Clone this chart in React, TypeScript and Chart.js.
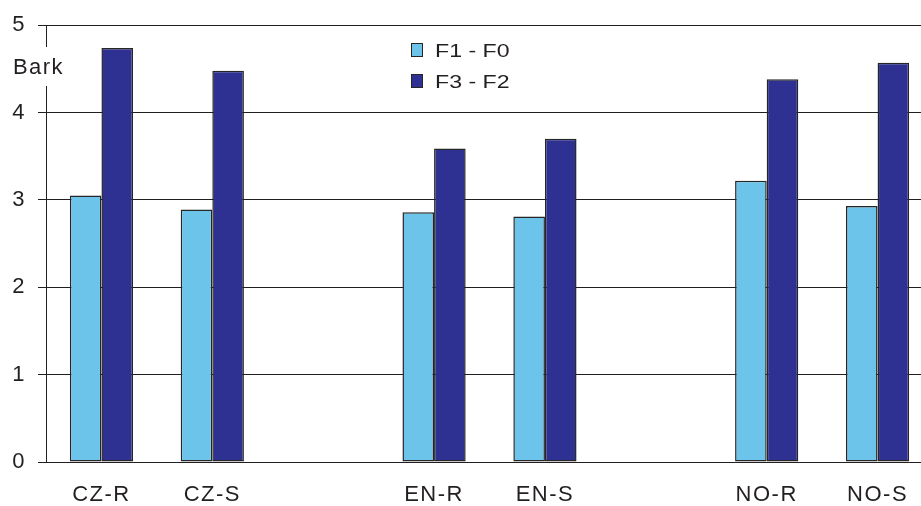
import React, { useEffect, useRef } from 'react';
import { Chart, registerables } from 'chart.js';

Chart.register(...registerables);

const categories = ['CZ-R', 'CZ-S', '', 'EN-R', 'EN-S', '', 'NO-R', 'NO-S'];
const seriesNames = ['F1 - F0', 'F3 - F2'];
const f1MinusF0 = [3.05, 2.89, null, 2.86, 2.81, null, 3.22, 2.93];
const f3MinusF2 = [4.74, 4.48, null, 3.59, 3.7, null, 4.38, 4.57];
const yMin = 0;
const yMax = 5;
const yStep = 1;
const unitLabel = 'Bark';

const FONT = '"Liberation Sans", Arial, Helvetica, sans-serif';
const INK = '#231F20';
const LIGHT = '#6DC4EB';
const DARK = '#2E3192';
const EDGE = '#262626';

const overlayPlugin = {
  id: 'overlayPlugin',
  beforeUpdate(chart: any) {
    chart.ctx.letterSpacing = '1.5px';
  },
  beforeDraw(chart: any) {
    chart.ctx.letterSpacing = '1.5px';
  },
  afterDraw(chart: any) {
    const ctx = chart.ctx as CanvasRenderingContext2D;
    ctx.save();
    // unit label, interrupting the y axis line
    ctx.fillStyle = '#ffffff';
    ctx.fillRect(8, 47, 58, 39);
    ctx.fillStyle = INK;
    ctx.font = `22px ${FONT}`;
    (ctx as any).letterSpacing = '1.5px';
    ctx.textAlign = 'center';
    ctx.textBaseline = 'alphabetic';
    ctx.fillText(unitLabel, 38.5, 73.5);

    // legend
    chart.data.datasets.forEach((ds: any, i: number) => {
      const top = 44 + i * 31;
      ctx.fillStyle = ds.backgroundColor;
      ctx.fillRect(412, top, 10, 12);
      ctx.strokeStyle = EDGE;
      ctx.lineWidth = 1;
      ctx.strokeRect(411.5, top - 0.5, 11, 13);
      ctx.save();
      ctx.translate(435, top + 13.3);
      ctx.scale(1.25, 1);
      (ctx as any).letterSpacing = '0px';
      ctx.font = `18.5px ${FONT}`;
      ctx.fillStyle = INK;
      ctx.textAlign = 'left';
      ctx.textBaseline = 'alphabetic';
      ctx.fillText(ds.label, 0, 0);
      ctx.restore();
    });
    ctx.restore();
  },
};

export default function App() {
  const canvasRef = useRef<HTMLCanvasElement | null>(null);

  useEffect(() => {
    const canvas = canvasRef.current;
    if (!canvas) return;
    const chart = new Chart(canvas, {
      type: 'bar',
      data: {
        labels: categories,
        datasets: [
          {
            label: seriesNames[0],
            data: f1MinusF0 as any,
            backgroundColor: LIGHT,
            borderColor: EDGE,
            borderWidth: 1.5,
            borderSkipped: false,
            categoryPercentage: 0.57,
            barPercentage: 1,
          },
          {
            label: seriesNames[1],
            data: f3MinusF2 as any,
            backgroundColor: DARK,
            borderColor: EDGE,
            borderWidth: 1.5,
            borderSkipped: false,
            categoryPercentage: 0.57,
            barPercentage: 1,
          },
        ],
      },
      options: {
        responsive: false,
        animation: false,
        devicePixelRatio: 1,
        layout: { padding: { top: 25, left: 0, right: 0, bottom: 0 } },
        plugins: {
          legend: { display: false },
          tooltip: { enabled: false },
        },
        scales: {
          x: {
            grid: { display: false, drawTicks: false },
            border: { display: false },
            ticks: {
              color: INK,
              font: { family: FONT, size: 22 },
              padding: 20,
              maxRotation: 0,
              autoSkip: false,
            },
            afterFit: (s: any) => {
              s.height = 44;
            },
          },
          y: {
            min: yMin,
            max: yMax,
            grid: {
              color: INK,
              lineWidth: 1,
              drawTicks: true,
              tickLength: 8,
            },
            border: { display: true, color: INK, width: 1 },
            ticks: {
              stepSize: yStep,
              color: INK,
              font: { family: FONT, size: 22 },
              padding: 12,
            },
            afterFit: (s: any) => {
              s.width = 46;
            },
          },
        },
      },
      plugins: [overlayPlugin],
    });
    return () => chart.destroy();
  }, []);

  return (
    <div style={{ position: 'fixed', left: 0, top: 0, width: 921, height: 506, overflow: 'hidden', background: '#fff' }}>
      <canvas ref={canvasRef} width={933} height={506} style={{ display: 'block', width: 933, height: 506 }} />
    </div>
  );
}
